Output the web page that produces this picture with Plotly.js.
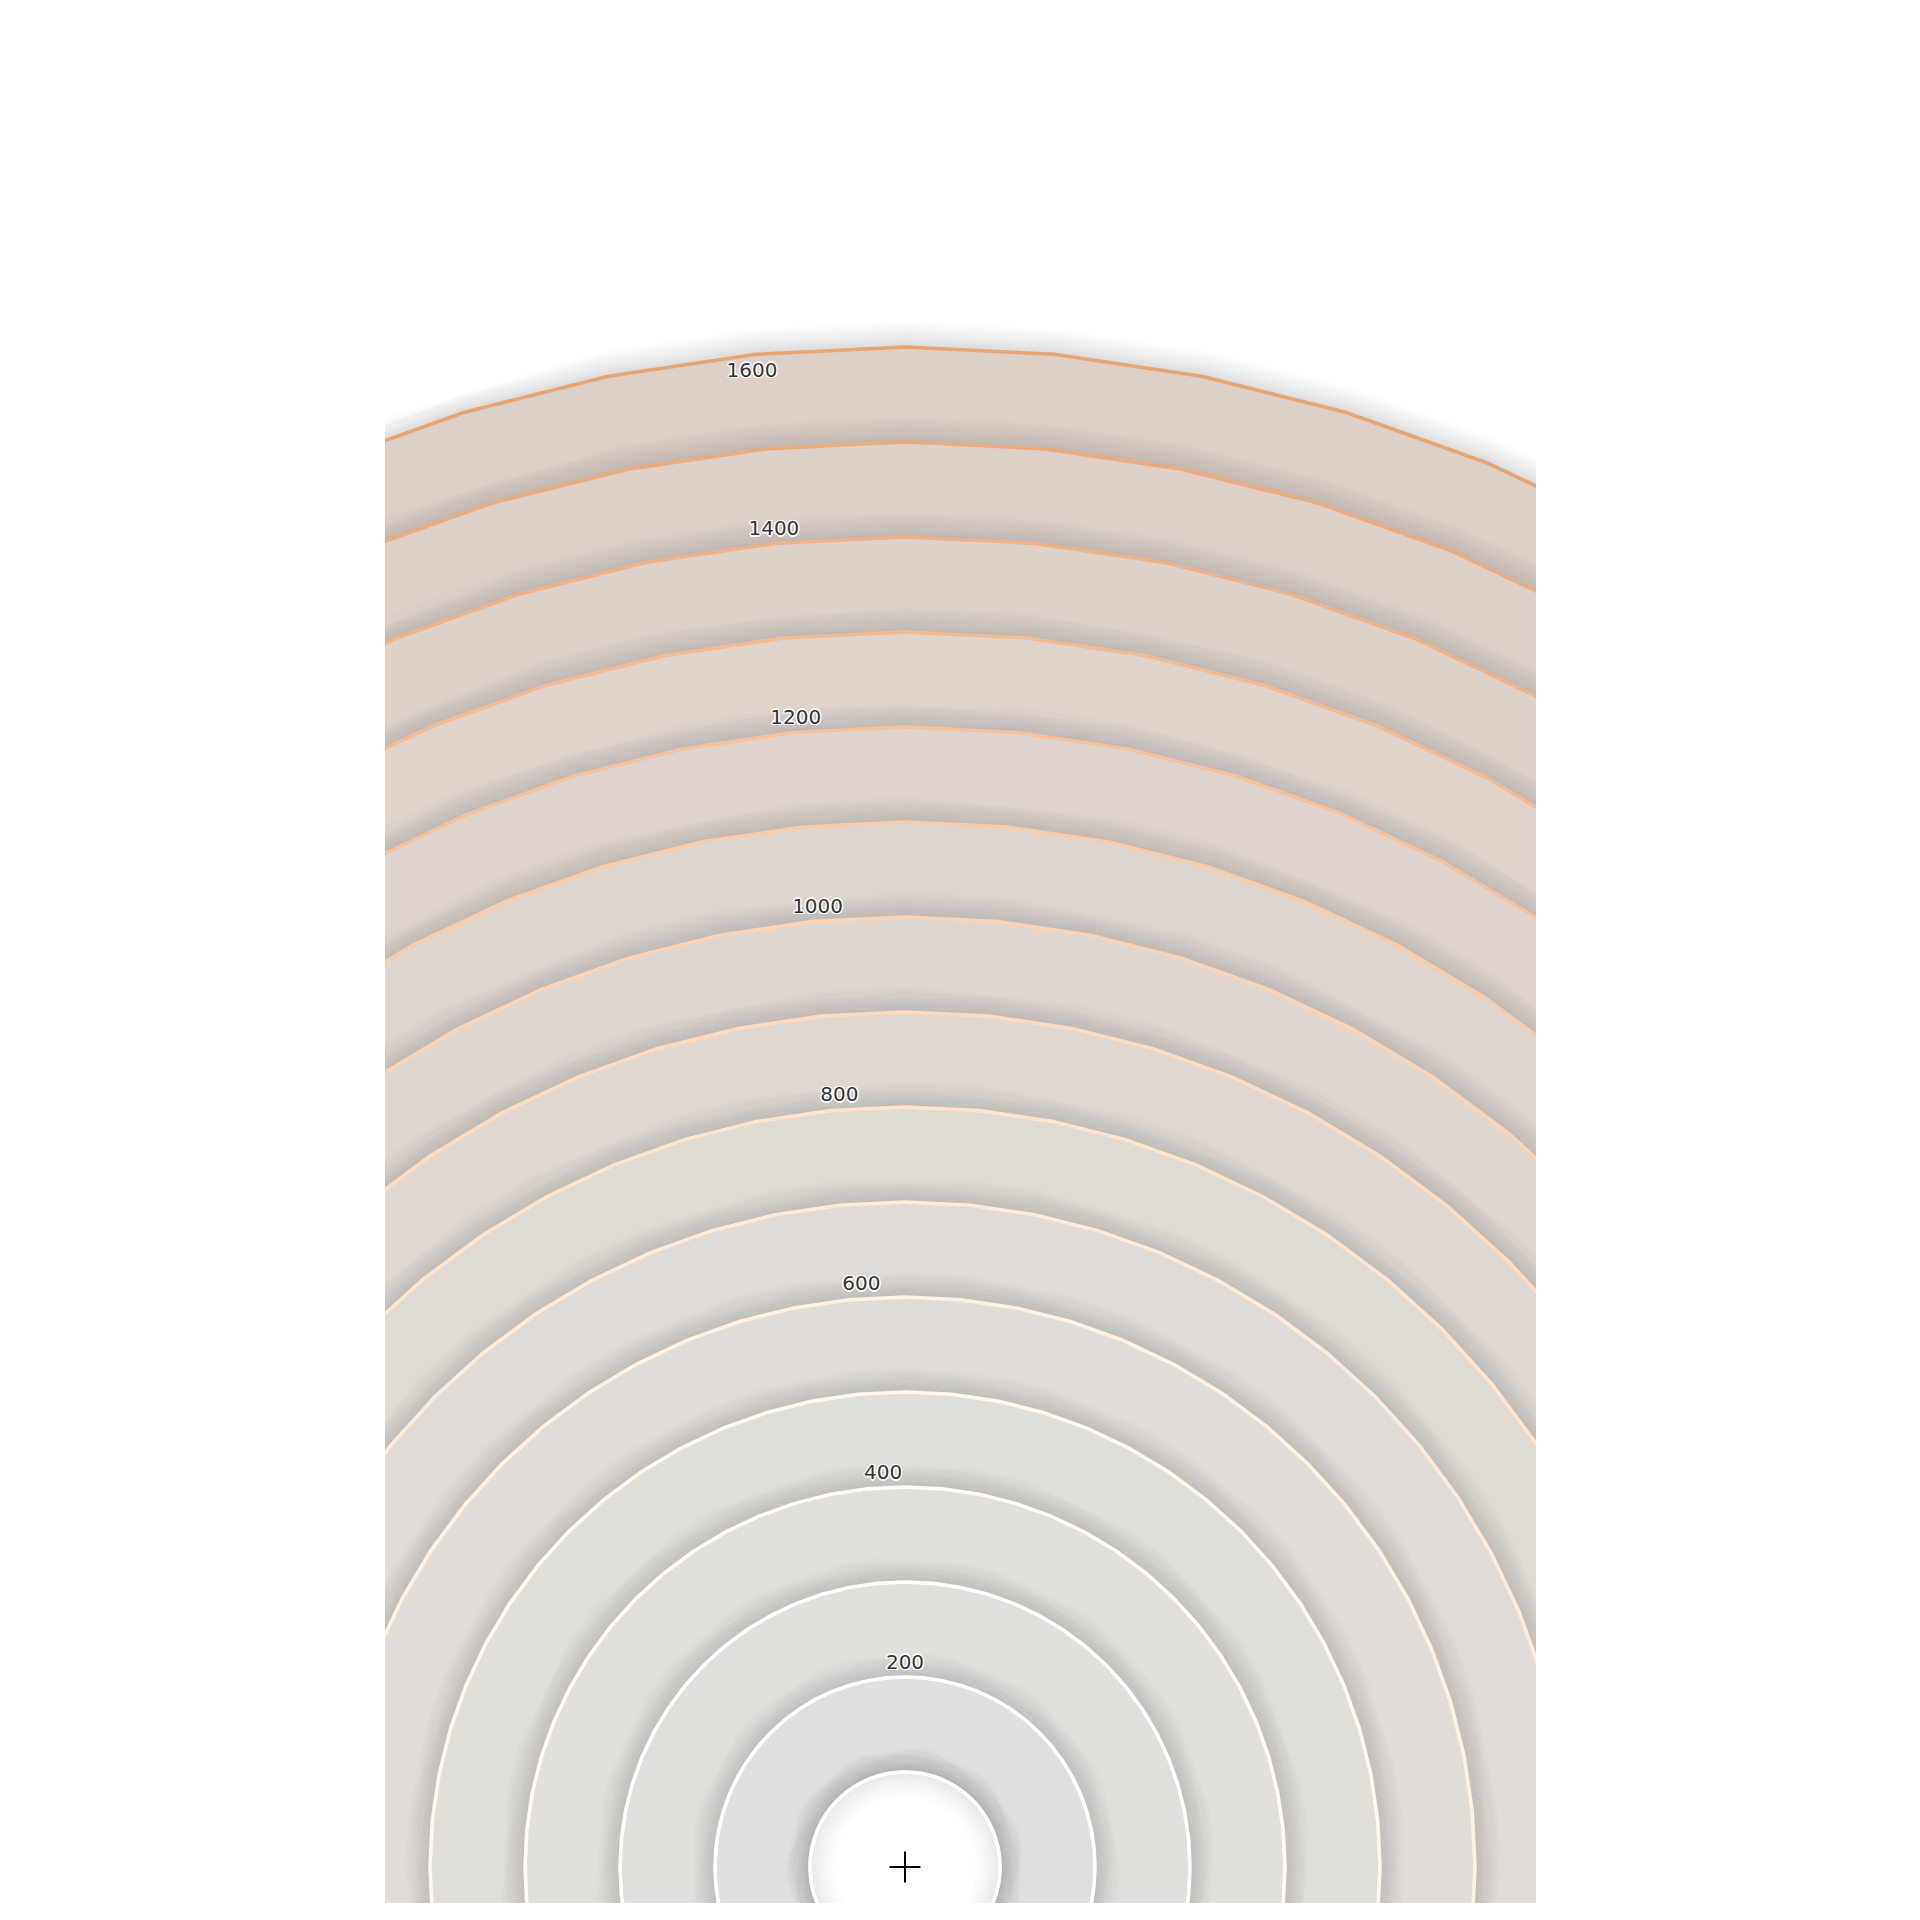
<!DOCTYPE html>
<html>
<head>
<meta charset="utf-8">
<script src="https://cdn.plot.ly/plotly-3.0.1.min.js"></script>
<style>html,body{margin:0;padding:0;background:#fff;}#chart{width:1920px;height:1920px;}</style>
</head>
<body>
<div id="chart"></div>
<script>
// ---- data ----
const ringLevels = [100, 200, 300, 400, 500, 600, 700, 800, 900, 1000, 1100, 1200, 1300, 1400, 1500, 1600];
const labelLevels = [200, 400, 600, 800, 1000, 1200, 1400, 1600];
const labelTexts = ["200", "400", "600", "800", "1000", "1200", "1400", "1600"];
const originX = [0];
const originY = [0];

// ---- styling helpers ----
const STEPS = 64;
function hexToRgb(h) { return [1, 3, 5].map(i => parseInt(h.substr(i, 2), 16)); }
function interp(stops, v) {
  for (let i = 0; i < stops.length - 1; i++) {
    const [a, ca] = stops[i], [b, cb] = stops[i + 1];
    if (v <= b) {
      const t = (v - a) / (b - a);
      const A = hexToRgb(ca), B = hexToRgb(cb);
      return 'rgb(' + A.map((c, k) => Math.round(c + (B[k] - c) * t)).join(',') + ')';
    }
  }
  return stops[stops.length - 1][1];
}
const fillStops = [[100, '#ffffff'], [100.0001, '#dfdfdf'], [200, '#dfdfdf'], [200.0001, '#e0e0dc'], [600, '#e0ddd8'], [1000, '#dfd6d0'], [1600, '#decfc7']];
const lineStops = [[100, '#ffffff'], [300, '#ffffff'], [600, '#fff1e2'], [800, '#ffe3cb'], [1000, '#fcd3b3'], [1200, '#f6c29c'], [1400, '#efb387'], [1600, '#e8a674']];

function ringPath(r) {
  // start at the bottom (below the visible area) so the closing seam is hidden
  const xs = [], ys = [];
  for (let k = 0; k <= STEPS; k++) {
    const a = -Math.PI / 2 + 2 * Math.PI * k / STEPS;
    xs.push(r * Math.cos(a));
    ys.push(r * Math.sin(a));
  }
  return { xs, ys };
}

const traces = [];
const shadowWidths = [50, 45, 40, 35, 30, 26, 22, 18, 14, 10, 7];
const desc = ringLevels.slice().sort((a, b) => b - a);
desc.forEach(L => {
  const p = ringPath(L);
  shadowWidths.forEach(w => {
    traces.push({ type: 'scatter', mode: 'lines', x: p.xs, y: p.ys, hoverinfo: 'skip', showlegend: false,
      line: { color: 'rgba(110,78,92,0.018)', width: w } });
  });
  traces.push({ type: 'scatter', mode: 'lines', x: p.xs, y: p.ys, fill: 'toself',
    fillcolor: interp(fillStops, L), hoverinfo: 'skip', showlegend: false,
    line: { color: interp(lineStops, L), width: 3.6 } });
  if (L === ringLevels[0]) {
    // inner shadow inside the central white disk
    [44, 36, 28, 22, 16, 11, 7].forEach(w => {
      traces.push({ type: 'scatter', mode: 'lines', x: p.xs, y: p.ys, hoverinfo: 'skip', showlegend: false,
        line: { color: 'rgba(90,90,90,0.02)', width: w } });
    });
    traces.push({ type: 'scatter', mode: 'lines', x: p.xs, y: p.ys, hoverinfo: 'skip', showlegend: false,
      line: { color: '#ffffff', width: 3.6 } });
  }
});

// labels
const maxLevel = Math.max(...ringLevels);
const lx = [], ly = [];
labelLevels.forEach(L => {
  const x = -(L - 200) * 0.115;
  const R = L === maxLevel ? L - 18 : L + 14;
  lx.push(x);
  ly.push(Math.sqrt(R * R - x * x));
});
traces.push({ type: 'scatter', mode: 'text', x: lx, y: ly, text: labelTexts, hoverinfo: 'skip', showlegend: false,
  textposition: 'middle center',
  textfont: { family: 'DejaVu Sans', size: 20, color: '#333333',
    shadow: '1px 1px 0 #fff, -1px -1px 0 #fff, 1px -1px 0 #fff, -1px 1px 0 #fff, 0 1.5px 0 #fff, 0 -1.5px 0 #fff, 1.5px 0 0 #fff, -1.5px 0 0 #fff' } });

// origin cross
traces.push({ type: 'scatter', mode: 'markers', x: originX, y: originY, hoverinfo: 'skip', showlegend: false,
  marker: { symbol: 'cross-thin', size: 22, color: '#000', line: { color: '#000', width: 2 } } });

// plot area: px per unit 0.95; origin at pixel (905, 1867)
const PX = 0.95;
const ml = 385, mr = 384, mt = 20, mb = 17;
const ox = 905, oy = 1867;
const layout = {
  width: 1920, height: 1920,
  margin: { l: ml, r: mr, t: mt, b: mb, pad: 0 },
  paper_bgcolor: '#ffffff', plot_bgcolor: '#ffffff',
  showlegend: false,
  xaxis: { range: [-(ox - ml) / PX, (1920 - mr - ox) / PX], visible: false, fixedrange: true },
  yaxis: { range: [-((1920 - mb) - oy) / PX, (oy - mt) / PX], visible: false, fixedrange: true },
  hovermode: false
};
Plotly.newPlot('chart', traces, layout, { displayModeBar: false, staticPlot: true });
</script>
</body>
</html>
